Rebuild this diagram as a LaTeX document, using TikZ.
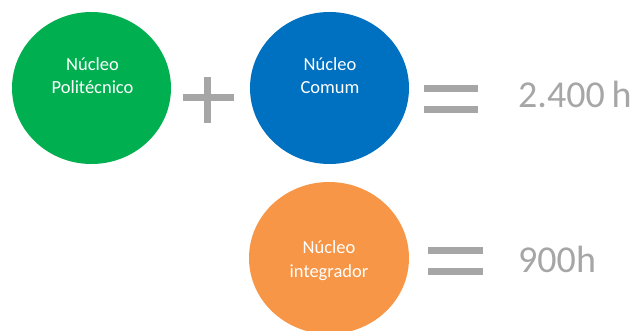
\documentclass[tikz,border=0pt]{standalone}
\usepackage{fontspec}
\setmainfont{Carlito}
\usetikzlibrary{shapes.geometric}
\definecolor{cgreen}{HTML}{00B050}
\definecolor{cblue}{HTML}{0070C0}
\definecolor{corange}{HTML}{F79646}
\definecolor{cgray}{HTML}{A6A6A6}
\tikzset{
  disc/.style={ellipse, minimum width=159pt, minimum height=152pt, inner sep=0pt},
  inlabel/.style={anchor=base, text=white, font=\fontsize{18.5}{21}\selectfont, inner sep=0pt},
  result/.style={anchor=base west, text=cgray, font=\fontsize{38}{44}\selectfont, inner sep=0pt},
  sym/.style={draw=cgray, line width=7pt}
}
\begin{document}
\begin{tikzpicture}[x=1pt,y=-1pt]
\useasboundingbox (0,0) rectangle (636,331);
% circles
\node[disc, fill=cgreen] (green) at (91.5,88) {};
\node[disc, fill=cblue] (blue) at (329.5,88) {};
\node[disc, fill=corange, minimum width=160pt] (orange) at (329,258) {};
% labels
\node[inlabel] (g1) at (92.5,71) {Núcleo};
\node[inlabel] (g2) at (92.5,94) {Politécnico};
\node[inlabel] (b1) at (330,71) {Núcleo};
\node[inlabel] (b2) at (330,94) {Comum};
\node[inlabel] (o1) at (329,253) {Núcleo};
\node[inlabel] (o2) at (329,277) {integrador};
% plus
\draw[sym] (183,97.5) -- (234,97.5);
\draw[sym] (207.5,77) -- (207.5,123);
% equals top
\draw[sym] (424,88.5) -- (478,88.5);
\draw[sym] (424,109.5) -- (478,109.5);
% equals bottom
\draw[sym] (428,250.5) -- (483,250.5);
\draw[sym] (428,271) -- (483,271);
% results
\node[result] (r1) at (518,108) {2.400\hspace{0.18em}h};
\node[result] (r2) at (518,272) {900h};
\end{tikzpicture}
\end{document}
